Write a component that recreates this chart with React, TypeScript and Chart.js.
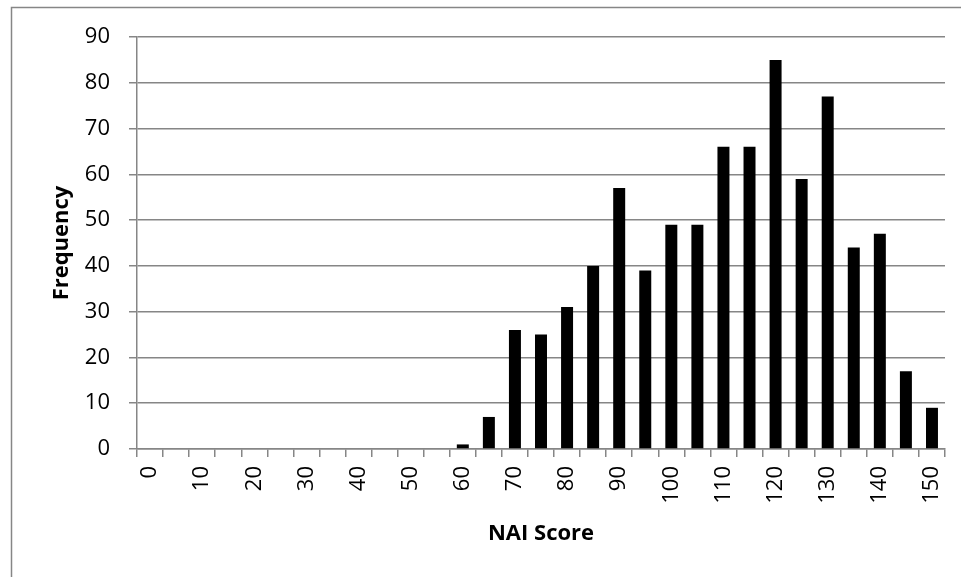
import React, { useEffect, useRef } from "react";
import { Chart, registerables } from "chart.js";

Chart.register(...registerables);

const categories: string[] = [
  "0", "5", "10", "15", "20", "25", "30", "35", "40", "45", "50", "55", "60", "65", "70", "75",
  "80", "85", "90", "95", "100", "105", "110", "115", "120", "125", "130", "135", "140", "145", "150",
];
const frequency: number[] = [
  0, 0, 0, 0, 0, 0, 0, 0, 0, 0, 0, 0, 1, 7, 26, 25,
  31, 40, 57, 39, 49, 49, 66, 66, 85, 59, 77, 44, 47, 17, 9,
];
const yTicks: number[] = [0, 10, 20, 30, 40, 50, 60, 70, 80, 90];
const xTitle = "NAI Score";
const yTitle = "Frequency";

const FONT = "'Open Sans', 'DejaVu Sans', sans-serif";
const GRAY = "#868686";

const borderPlugin = {
  id: "outerBorder",
  afterDraw(chart: any) {
    const ctx = chart.ctx;
    ctx.save();
    ctx.strokeStyle = GRAY;
    ctx.lineWidth = 1.5;
    ctx.beginPath();
    ctx.moveTo(11.5, 577);
    ctx.lineTo(11.5, 7.5);
    ctx.lineTo(961, 7.5);
    ctx.stroke();
    ctx.restore();
  },
};

export default function App() {
  const ref = useRef<HTMLCanvasElement | null>(null);

  useEffect(() => {
    if (!ref.current) return;
    const chart = new Chart(ref.current, {
      type: "bar",
      data: {
        labels: categories,
        datasets: [
          {
            data: frequency,
            backgroundColor: "#000000",
            borderWidth: 0,
            barPercentage: 0.46,
            categoryPercentage: 1,
          },
        ],
      },
      plugins: [borderPlugin],
      options: {
        animation: false,
        responsive: false,
        devicePixelRatio: 1,
        layout: { padding: { left: 11, right: 16, top: 37, bottom: 0 } },
        plugins: {
          legend: { display: false },
          tooltip: { enabled: false },
          title: { display: false },
        },
        scales: {
          x: {
            type: "category",
            offset: true,
            afterFit: (scale: any) => {
              scale.height = 577 - 449;
              scale.paddingRight = 0;
            },
            grid: {
              offset: true,
              drawOnChartArea: false,
              drawTicks: true,
              tickLength: 8,
              color: GRAY,
              lineWidth: 1.5,
            },
            border: { display: true, color: GRAY, width: 1.5 },
            ticks: {
              autoSkip: false,
              maxRotation: 90,
              minRotation: 90,
              padding: 9,
              color: "#000000",
              font: { family: FONT, size: 22 },
              callback: (_v: any, i: number) => (i % 2 === 0 ? categories[i] : ""),
            },
            title: {
              display: true,
              text: xTitle,
              color: "#000000",
              font: { family: FONT, size: 22, weight: "bold" },
              padding: { top: 0, bottom: 30 },
            },
          },
          y: {
            min: 0,
            max: 90,
            afterFit: (scale: any) => {
              scale.width = 137 - 11;
            },
            afterBuildTicks: (scale: any) => {
              scale.ticks = yTicks.map((v) => ({ value: v }));
            },
            grid: {
              drawTicks: true,
              tickLength: 8,
              color: GRAY,
              lineWidth: 1.5,
            },
            border: { display: true, color: GRAY, width: 1.5 },
            ticks: {
              padding: 19,
              color: "#000000",
              font: { family: FONT, size: 22 },
            },
            title: {
              display: true,
              text: yTitle,
              color: "#000000",
              font: { family: FONT, size: 22, weight: "bold" },
              padding: { top: 38, bottom: 0 },
            },
          },
        },
      },
    });
    return () => chart.destroy();
  }, []);

  return (
    <div style={{ position: "fixed", left: 0, top: 0, width: 961, height: 577, background: "#ffffff" }}>
      <canvas ref={ref} width={961} height={577} style={{ display: "block" }} />
    </div>
  );
}
